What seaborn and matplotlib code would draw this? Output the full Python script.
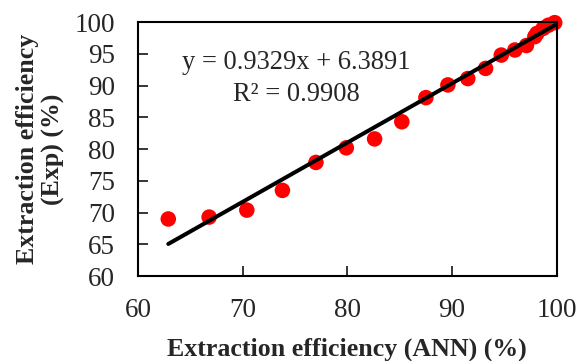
import numpy as np
import pandas as pd
import matplotlib
matplotlib.use("Agg")
import matplotlib.pyplot as plt
import seaborn as sns

ann = [62.9, 66.8, 70.4, 73.8, 77.0, 79.9, 82.6, 85.2, 87.5, 89.6, 91.5, 93.2,
       94.7, 96.0, 97.1, 97.9, 98.1, 98.7, 99.2, 99.8]
exp = [69.0, 69.3, 70.4, 73.5, 77.9, 80.2, 81.6, 84.3, 88.1, 90.1, 91.1, 92.7,
       94.8, 95.6, 96.3, 97.7, 98.2, 99.0, 99.5, 99.9]
slope = 0.9329
intercept = 6.3891
r2 = 0.9908
xticks = [60, 70, 80, 90, 100]
yticks = [60, 65, 70, 75, 80, 85, 90, 95, 100]

sns.set_style("ticks")
plt.rcParams['font.family'] = ['Liberation Serif', 'DejaVu Serif']

df = pd.DataFrame({"ANN": ann, "Exp": exp})
fit_x = np.array([min(ann), max(ann)])
fit = pd.DataFrame({"x": fit_x, "y": slope * fit_x + intercept})

fig = plt.figure(figsize=(5.77, 3.61), dpi=100)
ax = fig.add_axes([0.239, 0.235, 0.726, 0.704])

sns.scatterplot(data=df, x="ANN", y="Exp", ax=ax, color="#ff0000", s=125,
                edgecolor="none", zorder=2, clip_on=False)
sns.lineplot(data=fit, x="x", y="y", ax=ax, color="black", linewidth=2.9,
             zorder=3, clip_on=False)

ax.set_xlim(60, 100)
ax.set_ylim(60, 100)
ax.set_xticks(xticks)
ax.set_yticks(yticks)
ax.tick_params(direction="in", length=7, width=1.3, labelsize=19.5)
ax.tick_params(axis="x", pad=15.5)
ax.tick_params(axis="y", pad=16.5)
for sp in ax.spines.values():
    sp.set_linewidth(1.5)
    sp.set_color("black")

ax.set_xlabel("Extraction efficiency (ANN) (%)", fontsize=18.6, fontweight="bold",
              labelpad=10.5)
ax.set_ylabel("Extraction efficiency\n(Exp) (%)", fontsize=18.6, fontweight="bold",
              labelpad=6.5, linespacing=1.15)

ax.text(0.378, 0.84, f"y = {slope}x + {intercept}", transform=ax.transAxes,
        ha="center", va="center", fontsize=19.1)
ax.text(0.378, 0.713, f"R² = {r2}", transform=ax.transAxes,
        ha="center", va="center", fontsize=19.1)

fig.savefig("out.png", dpi=100)
